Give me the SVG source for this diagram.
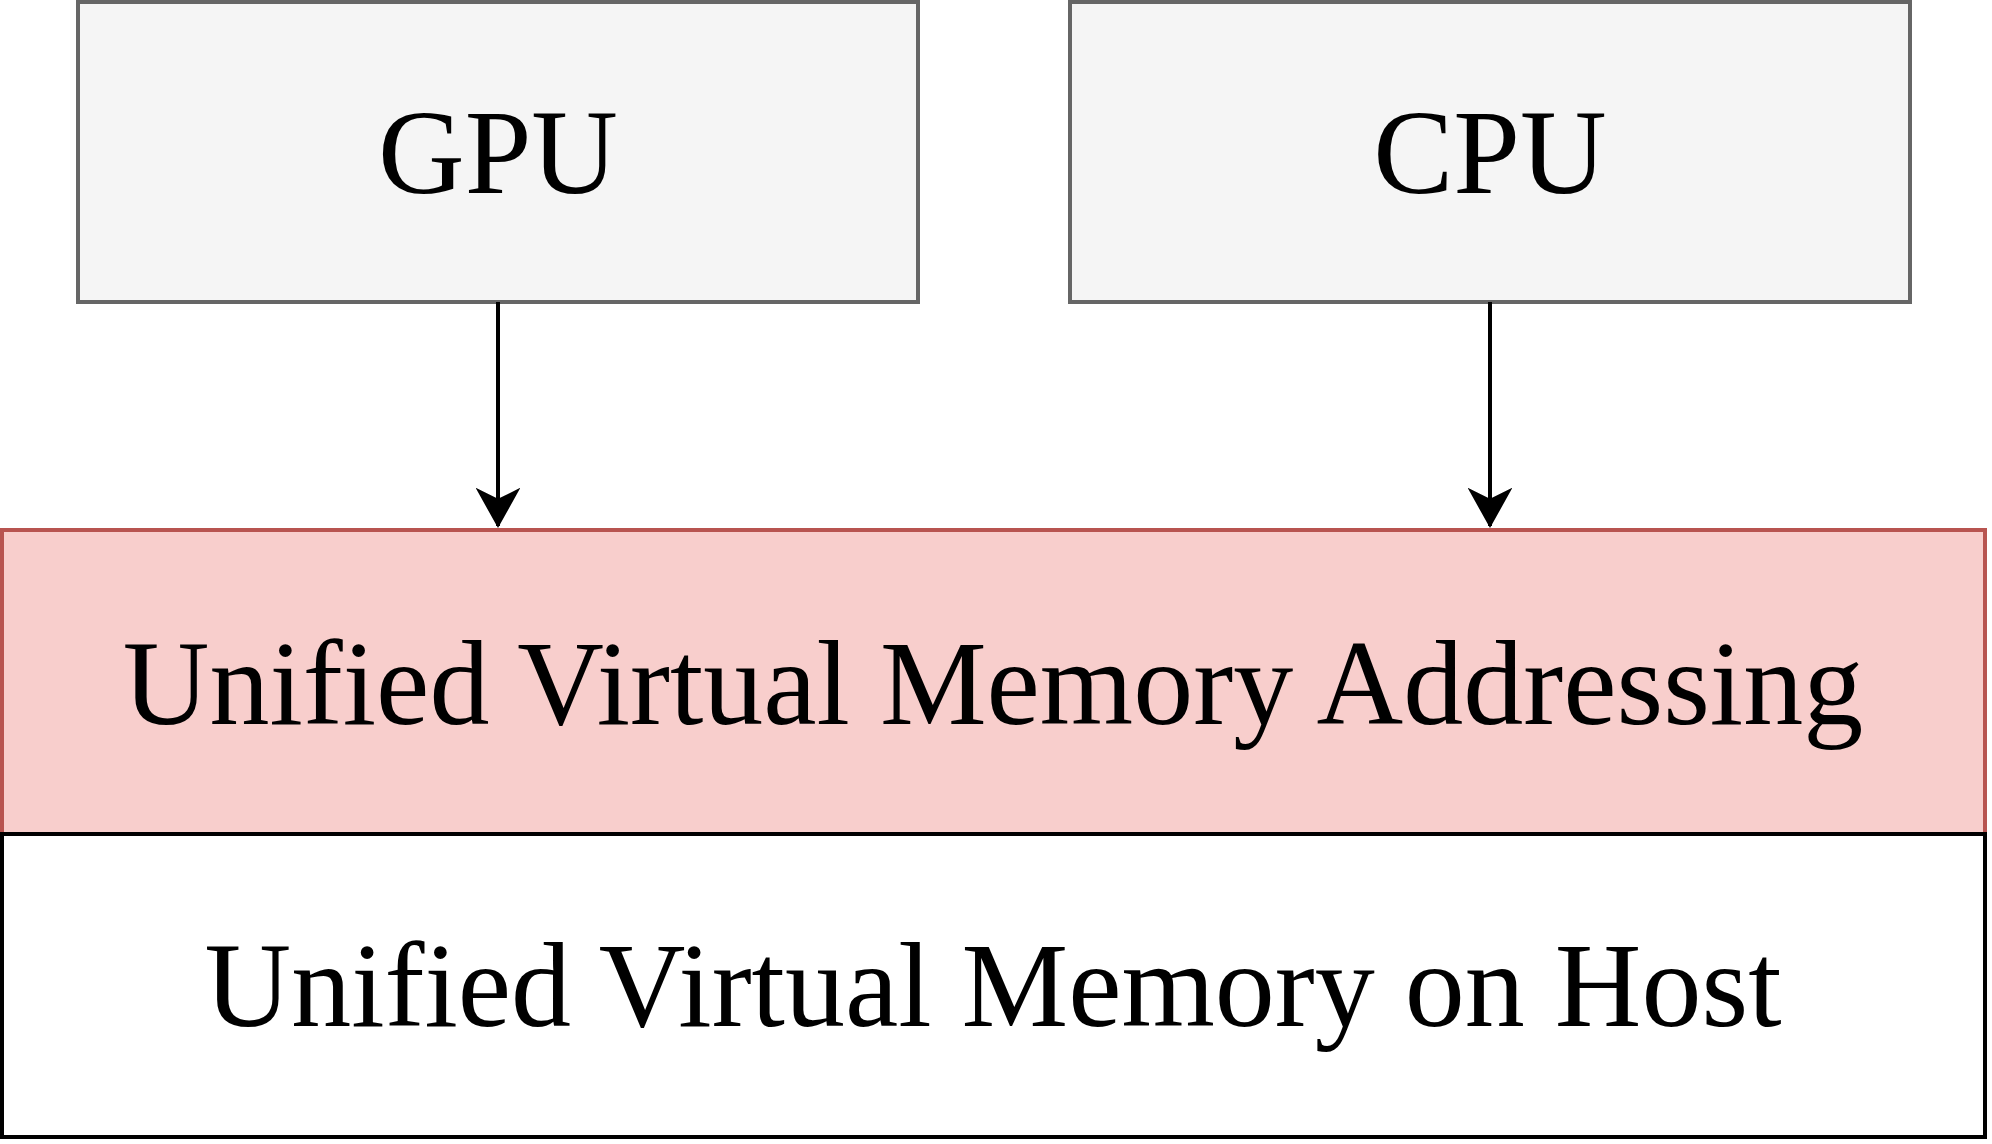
<svg xmlns="http://www.w3.org/2000/svg" width="1992" height="1144" viewBox="0 0 1992 1144">
<style>
.box{fill:#f5f5f5;stroke:#666666;stroke-width:4}
.lbl{font-family:"Liberation Serif","Times New Roman",serif;font-size:120px;fill:#000;text-anchor:middle}
.edge{stroke:#000;stroke-width:4;fill:none}
</style>
<defs>
<marker id="ah" markerUnits="userSpaceOnUse" markerWidth="44" markerHeight="44" viewBox="0 0 44 44" refX="38" refY="22" orient="auto">
<path d="M2,2 L38,22 L2,42 L12,22 Z" fill="#000" stroke="#000" stroke-width="2"/>
</marker>
</defs>
<rect width="1992" height="1144" fill="#fff"/>
<g id="gpu"><rect class="box" x="78" y="2" width="840" height="300"/><text class="lbl" x="498" y="193">GPU</text></g>
<g id="cpu"><rect class="box" x="1070" y="2" width="840" height="300"/><text class="lbl" x="1490" y="193">CPU</text></g>
<g id="uvma"><rect x="2" y="530" width="1983" height="304" fill="#f8cecc" stroke="#b85450" stroke-width="4"/><text class="lbl" x="993" y="724">Unified Virtual Memory Addressing</text></g>
<g id="uvmh"><rect x="2" y="834" width="1983" height="303" fill="#fff" stroke="#000" stroke-width="4"/><text class="lbl" x="993" y="1026">Unified Virtual Memory on Host</text></g>
<g id="connectors">
<line class="edge" x1="498" y1="302" x2="498" y2="526" marker-end="url(#ah)"/>
<line class="edge" x1="1490" y1="302" x2="1490" y2="526" marker-end="url(#ah)"/>
</g>
</svg>
